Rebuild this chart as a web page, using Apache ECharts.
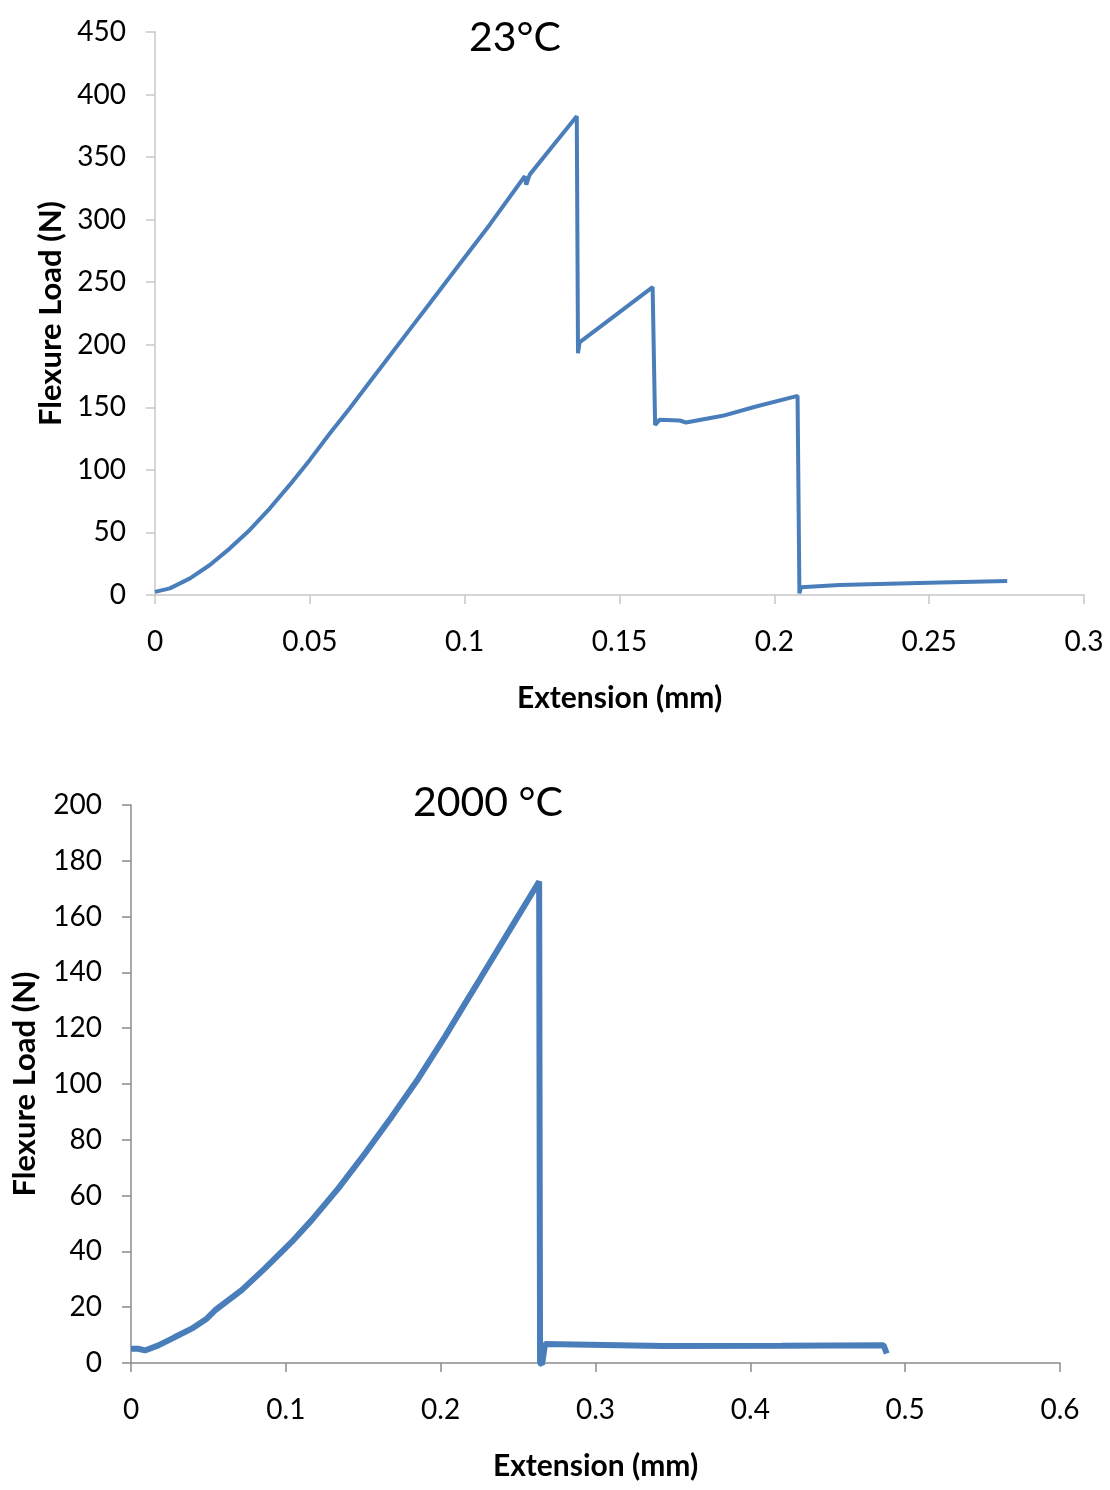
<!DOCTYPE html>
<html>
<head>
<meta charset="utf-8">
<script src="https://cdn.jsdelivr.net/npm/echarts@6/dist/echarts.min.js"></script>
<style>
  html, body { margin: 0; padding: 0; background: #fff; }
  #chart { width: 1110px; height: 1490px; }
</style>
</head>
<body>
<div id="chart"></div>
<script>
// 23 °C test: extension (mm) and flexure load (N)
const roomExt = [0, 0.0048, 0.0113, 0.0177, 0.0242, 0.0306, 0.0371, 0.0435, 0.05, 0.0565,
  0.0629, 0.0694, 0.0758, 0.0823, 0.0887, 0.0952, 0.1016, 0.1081, 0.1194, 0.1199, 0.121,
  0.1285, 0.1362, 0.1366, 0.1371, 0.1607, 0.1615, 0.1629, 0.1694, 0.1715, 0.1833, 0.1941,
  0.2075, 0.2081, 0.2086, 0.221, 0.25, 0.2752];
const roomLoad = [2.5, 5.3, 13.3, 24, 37.3, 52, 69.3, 88, 108, 129.3,
  149.3, 170.4, 191.2, 212.3, 233, 254.2, 275, 296, 334.7, 328, 336,
  359, 382.7, 193.3, 201.9, 246.1, 136, 140, 139.5, 137.9, 143.2, 150.7,
  159.2, 1.3, 6.1, 8, 9.8, 11.2];

// 2000 °C test
const hotExt = [0, 0.0047, 0.009, 0.0177, 0.0284, 0.0392, 0.0489, 0.0543, 0.0715, 0.0865,
  0.1038, 0.1167, 0.1339, 0.1511, 0.1684, 0.1856, 0.2028, 0.2157, 0.2255, 0.247, 0.2636,
  0.2642, 0.2655, 0.2674, 0.3439, 0.42, 0.486, 0.4881];
const hotLoad = [5.1, 5.1, 4.5, 6.3, 9.3, 12.3, 15.9, 18.9, 26.1, 33.9,
  43.4, 51.2, 62.6, 75.1, 88.3, 102, 117, 128.8, 137.7, 157.4, 172.6,
  0, -0.5, 6.8, 6.1, 6.2, 6.4, 3.4];

const roomTicks = { min: 0, max: 0.3, interval: 0.05 };
const roomYTicks = { min: 0, max: 450, interval: 50 };
const hotTicks = { min: 0, max: 0.6, interval: 0.1 };
const hotYTicks = { min: 0, max: 200, interval: 20 };

const FONT = "Lato, 'Liberation Sans', sans-serif";
const LINE = "#4A7EBB";

const chart = echarts.init(document.getElementById("chart"));

function xAxis(grid, ticks, axisColor) {
  return {
    type: "value",
    gridIndex: grid,
    ...ticks,
    name: "Extension (mm)",
    nameLocation: "middle",
    nameGap: 88,
    nameTextStyle: { fontFamily: FONT, fontSize: 30, fontWeight: "bold", color: "#000" },
    axisLine: { lineStyle: { color: axisColor, width: 1.5 } },
    axisTick: { show: true, length: 9, lineStyle: { color: axisColor, width: 1.5 } },
    axisLabel: { fontFamily: FONT, fontSize: 28, color: "#000", margin: 33 },
    splitLine: { show: false },
  };
}

function yAxis(grid, ticks, axisColor, gap) {
  return {
    type: "value",
    gridIndex: grid,
    ...ticks,
    name: "Flexure Load (N)",
    nameLocation: "middle",
    nameGap: gap,
    nameRotate: 90,
    nameTextStyle: { fontFamily: FONT, fontSize: 31, fontWeight: "bold", color: "#000" },
    axisLine: { show: true, lineStyle: { color: axisColor, width: 1.5 } },
    axisTick: { show: true, length: 9, lineStyle: { color: axisColor, width: 1.5 } },
    axisLabel: { fontFamily: FONT, fontSize: 28, color: "#000", margin: 29 },
    splitLine: { show: false },
  };
}

chart.setOption({
  animation: false,
  grid: [
    { left: 155, top: 32, width: 929, height: 563, outerBoundsMode: "none" },
    { left: 131, top: 805, width: 929, height: 558, outerBoundsMode: "none" },
  ],
  xAxis: [xAxis(0, roomTicks, "#c8c8c8"), xAxis(1, hotTicks, "#8c8c8c")],
  yAxis: [yAxis(0, roomYTicks, "#c8c8c8", 89), yAxis(1, hotYTicks, "#8c8c8c", 91)],
  graphic: [
    { type: "text", x: 515, y: 38, style: { text: "23\u00B0C", font: `41px ${FONT}`, fill: "#000", textAlign: "center", textVerticalAlign: "middle" } },
    { type: "text", x: 488, y: 803, style: { text: "2000 \u00B0C", font: `41px ${FONT}`, fill: "#000", textAlign: "center", textVerticalAlign: "middle" } },
  ],
  series: [
    {
      type: "line",
      xAxisIndex: 0,
      yAxisIndex: 0,
      data: roomExt.map((x, i) => [x, roomLoad[i]]),
      showSymbol: false,
      clip: false,
      lineStyle: { color: LINE, width: 4 },
    },
    {
      type: "line",
      xAxisIndex: 1,
      yAxisIndex: 1,
      data: hotExt.map((x, i) => [x, hotLoad[i]]),
      showSymbol: false,
      clip: false,
      lineStyle: { color: LINE, width: 6 },
    },
  ],
});
</script>
</body>
</html>
